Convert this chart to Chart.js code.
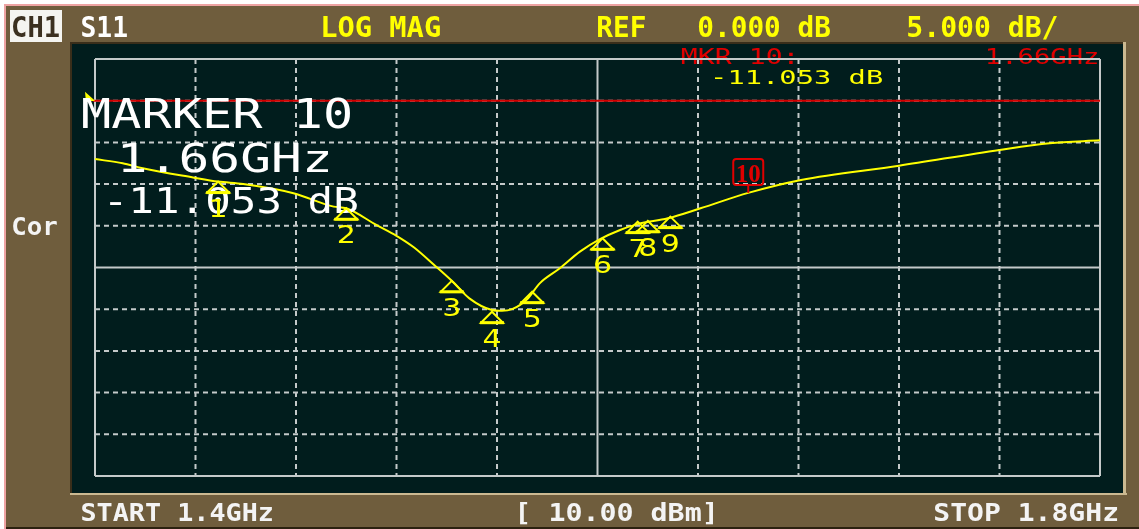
<!DOCTYPE html>
<html><head><meta charset="utf-8">
<script src="https://cdn.jsdelivr.net/npm/chart.js@4"></script>
<style>html,body{margin:0;padding:0;background:#fff;overflow:hidden}#wrap{position:relative;width:1139px;height:529px}canvas{display:block}</style>
</head><body><div id="wrap"><canvas id="c" width="1139" height="529"></canvas></div>
<script>
// ---- data ----
const freqGHz = [1.400,1.411,1.419,1.439,1.449,1.459,1.479,1.495,1.500,1.512,1.520,1.527,1.535,1.542,1.549,1.558,1.562,1.566,1.572,1.577,1.585,1.593,1.601,1.609,1.616,1.628,1.641,1.660,1.681,1.720,1.760,1.780,1.800];
const s11dB   = [-7.0,-7.5,-8.1,-9.2,-9.7,-10.0,-11.1,-12.7,-12.9,-14.9,-16.2,-17.6,-19.7,-21.6,-23.7,-25.1,-25.2,-25.0,-23.8,-21.9,-20.1,-18.1,-16.6,-15.5,-14.8,-14.1,-12.9,-11.05,-9.5,-7.8,-5.9,-5.1,-4.75];
const markerNames = ['1','2','3','4','5','6','7','8','9','10'];
const markerGHz   = [1.449,1.500,1.542,1.558,1.574,1.602,1.616,1.620,1.629,1.660];
const markerDb    = [-9.7,-12.9,-21.6,-25.3,-22.9,-16.5,-14.5,-14.4,-13.9,-11.053];
const xGridGHz = [1.40,1.44,1.48,1.52,1.56,1.60,1.64,1.68,1.72,1.76,1.80];
const yGridDb  = [5,0,-5,-10,-15,-20,-25,-30,-35,-40,-45];
const refLevelDb = 0;
const headerLabels = ['CH1','S11','LOG MAG','REF','0.000 dB','5.000 dB/'];
const footerLabels = ['START 1.4GHz','[ 10.00 dBm]','STOP 1.8GHz'];
const markerReadout = ['MKR 10:','1.66GHz','-11.053 dB'];
const bigReadout = ['MARKER 10','1.66GHz','-11.053 dB'];

// ---- styles ----
const W = 1139, H = 529;
const BROWN = '#6f5d3d', PANEL = '#011d1d', GRID = '#c4caca', YEL = '#ffff00', RED = '#e00000';
const MONO = '"DejaVu Sans Mono", monospace';

function fitText(ctx, str, left, capTop, baseline, width, weight, family, color) {
  ctx.save();
  ctx.font = weight + ' 100px ' + family;
  ctx.textBaseline = 'alphabetic';
  ctx.textAlign = 'left';
  ctx.fillStyle = color;
  const m = ctx.measureText(str);
  const cap = ctx.measureText('H').actualBoundingBoxAscent;
  const inkW = m.actualBoundingBoxLeft + m.actualBoundingBoxRight;
  ctx.translate(left, baseline);
  ctx.scale(width / inkW, (baseline - capTop) / cap);
  ctx.fillText(str, m.actualBoundingBoxLeft, 0);
  ctx.restore();
}

const framePlugin = {
  id: 'frame',
  beforeDraw(chart) {
    const ctx = chart.ctx;
    ctx.save();
    ctx.fillStyle = '#ffffff'; ctx.fillRect(0, 0, W, H);
    ctx.fillStyle = '#eea3a3'; ctx.fillRect(4, 4, W - 4, 2); ctx.fillRect(4, 4, 2, H - 4);
    ctx.fillStyle = BROWN; ctx.fillRect(6, 6, W - 6, H - 6);
    ctx.fillStyle = '#2c2210'; ctx.fillRect(6, H - 2, W - 6, 2);
    // panel bevel
    ctx.fillStyle = '#3a2e1a'; ctx.fillRect(70, 42, 1055, 2); ctx.fillRect(70, 42, 2, 453);
    ctx.fillStyle = '#cbb991'; ctx.fillRect(70, 493, 1057, 2); ctx.fillRect(1123, 42, 3, 453);
    ctx.fillStyle = PANEL; ctx.fillRect(72, 44, 1051, 449);
    // header
    ctx.fillStyle = '#f4f4f0'; ctx.fillRect(10, 10, 52, 32);
    fitText(ctx, headerLabels[0], 13, 16, 37, 46, 'bold', MONO, '#3b3020');
    fitText(ctx, headerLabels[1], 82, 16, 37, 45, 'bold', MONO, '#ffffff');
    fitText(ctx, headerLabels[2], 323, 16, 37, 117, 'bold', MONO, YEL);
    fitText(ctx, headerLabels[3], 598, 16, 37, 47, 'bold', MONO, YEL);
    fitText(ctx, headerLabels[4], 699, 16, 37, 131, 'bold', MONO, YEL);
    fitText(ctx, headerLabels[5], 908, 16, 37, 149, 'bold', MONO, YEL);
    // footer
    fitText(ctx, footerLabels[0], 82, 503, 521, 190, 'bold', MONO, '#f4f4f4');
    fitText(ctx, footerLabels[1], 520, 503, 521, 193, 'bold', MONO, '#f4f4f4');
    fitText(ctx, footerLabels[2], 935, 503, 521, 182, 'bold', MONO, '#f4f4f4');
    // side
    fitText(ctx, 'Cor', 13, 217, 235, 44, 'bold', MONO, '#f4f4f4');
    // marker readout
    fitText(ctx, markerReadout[0], 682, 49, 64, 111, 'normal', MONO, RED);
    fitText(ctx, markerReadout[1], 988, 49, 64, 109, 'normal', MONO, RED);
    fitText(ctx, markerReadout[2], 715, 70, 84, 167, 'normal', MONO, YEL);
    ctx.restore();
  }
};

const gridPlugin = {
  id: 'grid',
  beforeDatasetsDraw(chart) {
    const ctx = chart.ctx, xs = chart.scales.x, ys = chart.scales.y;
    const { left, right, top, bottom } = chart.chartArea;
    ctx.save();
    ctx.lineWidth = 2;
    ctx.strokeStyle = GRID;
    xGridGHz.forEach((v, i) => {
      const px = xs.getPixelForValue(v);
      const solid = (i === 0 || i === 5 || i === xGridGHz.length - 1);
      ctx.setLineDash(solid ? [] : [5, 4]);
      ctx.beginPath(); ctx.moveTo(px, top); ctx.lineTo(px, bottom); ctx.stroke();
    });
    yGridDb.forEach((v, i) => {
      const py = ys.getPixelForValue(v);
      const solid = (i === 0 || i === 5 || i === yGridDb.length - 1);
      ctx.setLineDash(solid ? [] : [5, 4]);
      ctx.beginPath(); ctx.moveTo(left, py); ctx.lineTo(right, py); ctx.stroke();
    });
    ctx.setLineDash([]);
    // reference line
    const ry = ys.getPixelForValue(refLevelDb);
    ctx.strokeStyle = '#d40000'; ctx.lineWidth = 2;
    ctx.beginPath(); ctx.moveTo(left - 2, ry); ctx.lineTo(right, ry); ctx.stroke();
    // reference position indicator
    ctx.fillStyle = YEL;
    ctx.beginPath(); ctx.moveTo(left - 10, ry - 9); ctx.lineTo(left, ry); ctx.lineTo(left - 9, ry + 1); ctx.closePath(); ctx.fill();
    ctx.restore();
  }
};

const markerPlugin = {
  id: 'markers',
  afterDatasetsDraw(chart) {
    const ctx = chart.ctx;
    ctx.save();
    // big readout text
    fitText(ctx, bigReadout[0], 83, 98, 128, 267, 'normal', MONO, '#ffffff');
    fitText(ctx, bigReadout[1], 123, 143, 172, 205, 'normal', MONO, '#ffffff');
    fitText(ctx, bigReadout[2], 110, 187, 213, 247, 'normal', MONO, '#ffffff');
    const meta = chart.getDatasetMeta(1);
    meta.data.forEach((pt, i) => {
      const x = pt.x, y = pt.y;
      if (markerNames[i] === '10') {
        ctx.strokeStyle = RED; ctx.lineWidth = 2;
        ctx.beginPath(); ctx.moveTo(x, y); ctx.lineTo(x, y - 8); ctx.stroke();
        ctx.beginPath(); ctx.roundRect(x - 15, y - 34, 30, 26, 3); ctx.stroke();
        ctx.fillStyle = RED;
        ctx.font = 'bold 25px "Liberation Serif", serif';
        ctx.textAlign = 'center'; ctx.textBaseline = 'alphabetic';
        ctx.fillText(markerNames[i], x, y - 11);
      } else {
        ctx.strokeStyle = YEL; ctx.lineWidth = 2;
        ctx.beginPath(); ctx.moveTo(x, y); ctx.lineTo(x + 11, y + 11); ctx.lineTo(x - 11, y + 11); ctx.closePath(); ctx.stroke();
        ctx.lineWidth = 3;
        ctx.beginPath(); ctx.moveTo(x - 12, y + 11); ctx.lineTo(x + 12, y + 11); ctx.stroke();
        ctx.save();
        ctx.fillStyle = YEL;
        ctx.font = '24px "DejaVu Sans", sans-serif';
        ctx.textAlign = 'center'; ctx.textBaseline = 'alphabetic';
        ctx.translate(x, y + 35); ctx.scale(1.25, 1);
        ctx.fillText(markerNames[i], 0, 0);
        ctx.restore();
      }
    });
    ctx.restore();
  }
};

new Chart(document.getElementById('c'), {
  type: 'scatter',
  data: {
    datasets: [
      { label: 'S11', data: freqGHz.map((f, i) => ({ x: f, y: s11dB[i] })), showLine: true,
        borderColor: YEL, borderWidth: 2, pointRadius: 0, cubicInterpolationMode: 'monotone', fill: false },
      { label: 'Markers', data: markerGHz.map((f, i) => ({ x: f, y: markerDb[i] })), showLine: false,
        pointRadius: 0, borderColor: 'rgba(0,0,0,0)', backgroundColor: 'rgba(0,0,0,0)' }
    ]
  },
  options: {
    responsive: false, animation: false, devicePixelRatio: 1, events: [],
    layout: { padding: { left: 95, right: 39, top: 59, bottom: 53 } },
    plugins: { legend: { display: false }, tooltip: { enabled: false }, title: { display: false } },
    scales: {
      x: { type: 'linear', min: 1.4, max: 1.8, display: false },
      y: { type: 'linear', min: -45, max: 5, display: false }
    }
  },
  plugins: [framePlugin, gridPlugin, markerPlugin]
});
</script>
</body></html>
